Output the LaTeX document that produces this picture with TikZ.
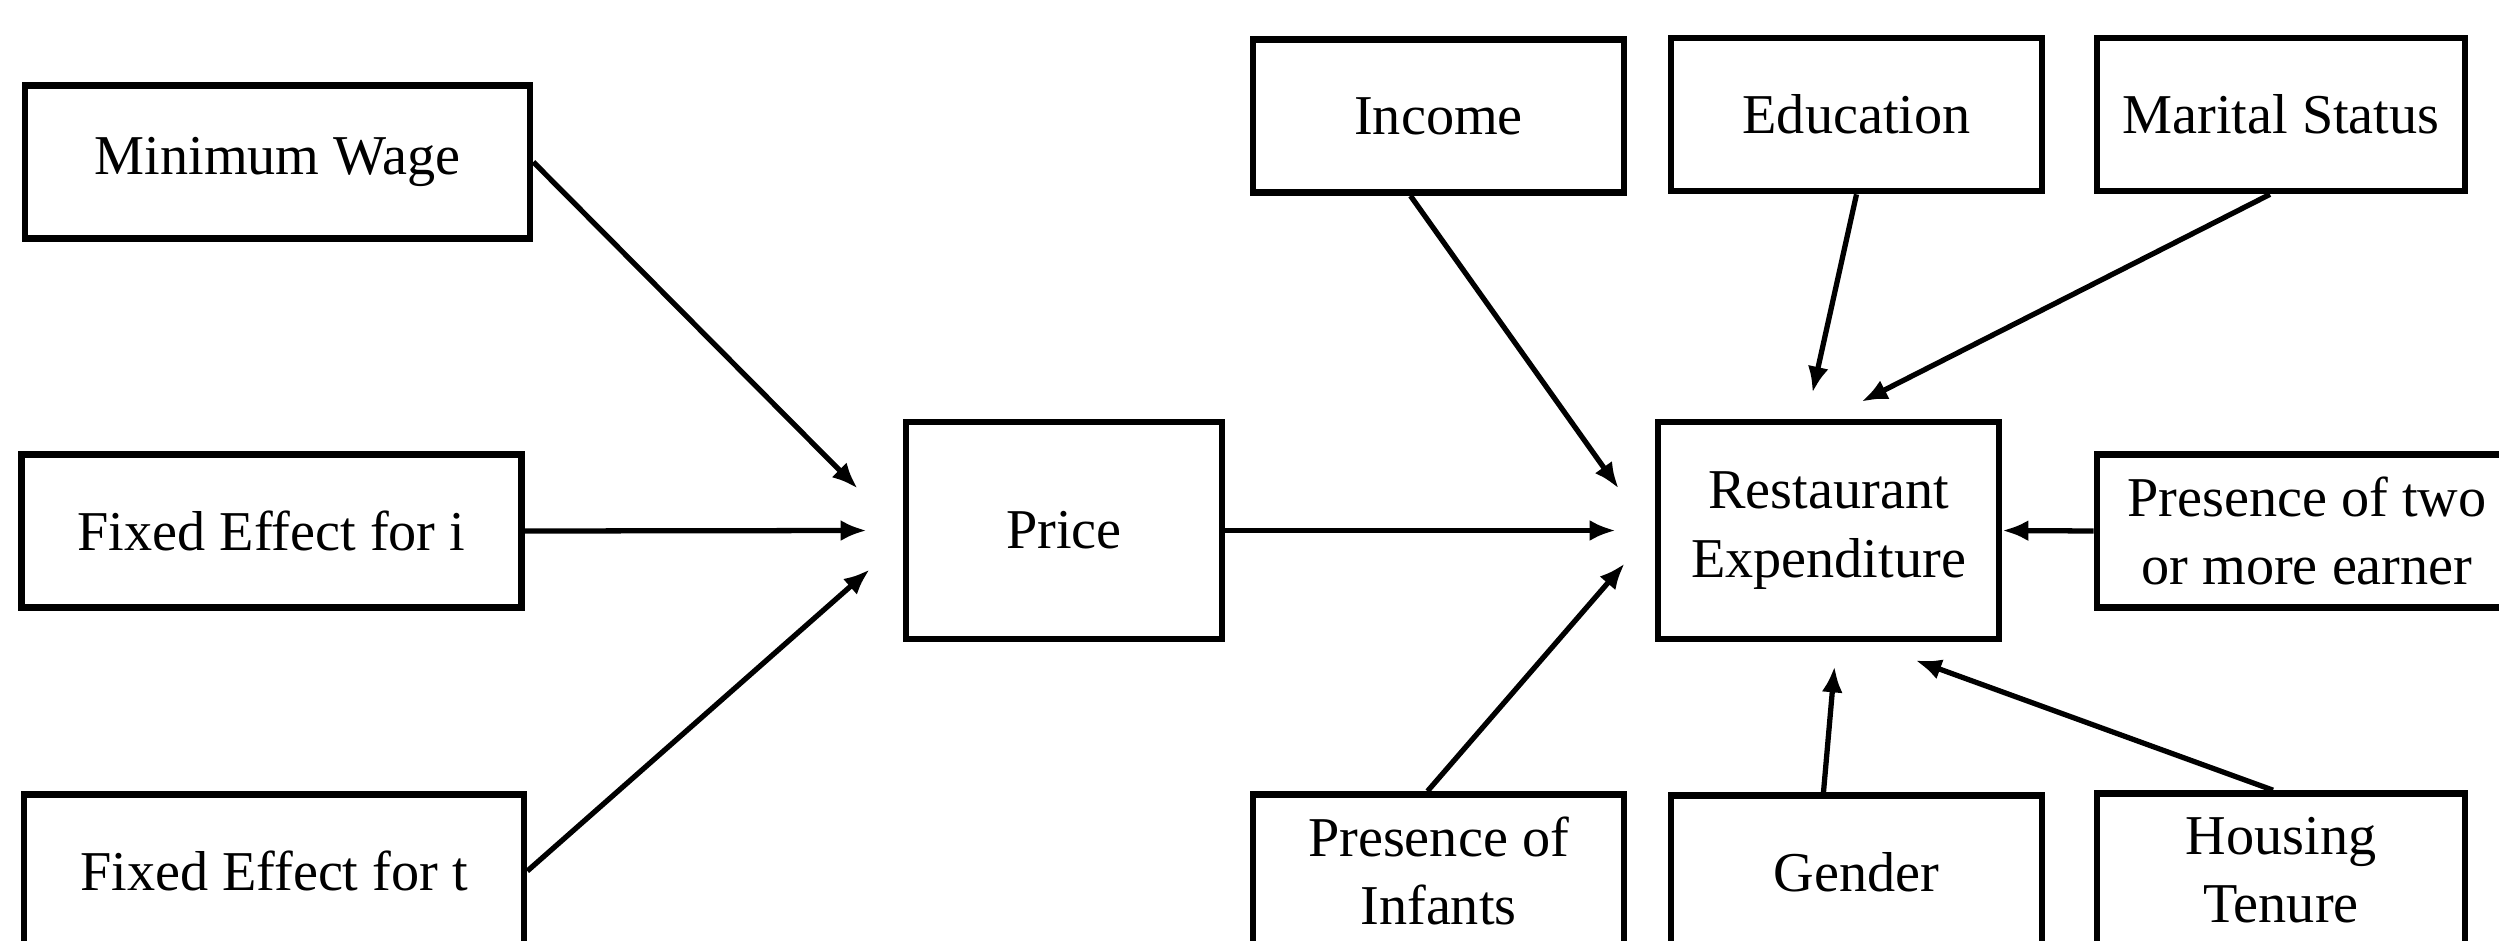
\documentclass[tikz,border=0pt]{standalone}
\usepackage{fontspec}
\setmainfont{Liberation Serif}
\usetikzlibrary{arrows.meta}

\begin{document}
\begin{tikzpicture}[
  box/.style={
    draw, line width=1.9pt, fill=white, align=center,
    minimum height=1.53cm, font=\fontsize{16}{19.5}\selectfont
  },
  flow/.style={
    line width=1.5pt, -{Latex[length=2.6mm,width=2.1mm]}
  },
]

\useasboundingbox (0,0) rectangle (24.99,-9.41);
\clip (0,0) rectangle (24.99,-9.41);

% Left column: inputs to price
\node[box, minimum width=5.05cm] (minwage) at (2.775,-1.62) {Minimum Wage};
\node[box, minimum width=5.0cm] (fei) at (2.715,-5.31) {Fixed Effect for i};
\node[box, minimum width=5.0cm] (fet) at (2.74,-8.71) {Fixed Effect for t};

% Middle
\node[box, minimum width=3.16cm, minimum height=2.17cm] (price) at (10.64,-5.305) {Price};
\node[box, minimum width=3.41cm, minimum height=2.17cm] (restexp) at (18.285,-5.305) {Restaurant\\Expenditure};

% Top row
\node[box, minimum width=3.71cm] (income) at (14.385,-1.16) {Income};
\node[box, minimum width=3.71cm] (educ) at (18.565,-1.145) {Education};
\node[box, minimum width=3.68cm] (marital) at (22.81,-1.145) {Marital Status};

% Right
\node[box, minimum width=4.2cm] (twoearn) at (23.07,-5.31) {Presence of two\\or more earner};

% Bottom row
\node[box, minimum width=3.71cm] (infants) at (14.385,-8.71) {Presence of\\Infants};
\node[box, minimum width=3.71cm] (gender) at (18.565,-8.72) {Gender};
\node[box, minimum width=3.68cm] (housing) at (22.81,-8.70) {Housing\\Tenure};

% Arrows into price
\draw[flow] (minwage.east) -- ([xshift=-0.45cm,yshift=0.42cm]price.west);
\draw[flow] (fei.east) -- ([xshift=-0.36cm]price.west);
\draw[flow] (fet.east) -- ([xshift=-0.33cm,yshift=-0.39cm]price.west);

% Arrows into restaurant expenditure
\draw[flow] (price.east) -- ([xshift=-0.39cm]restexp.west);
\draw[flow] ([xshift=-0.28cm]income.south) -- ([xshift=-0.36cm,yshift=0.42cm]restexp.west);
\draw[flow] ([xshift=-0.11cm]infants.north) -- ([xshift=-0.30cm,yshift=-0.33cm]restexp.west);
\draw[flow] (educ.south) -- ([xshift=-0.16cm,yshift=0.26cm]restexp.north);
\draw[flow] ([xshift=-0.11cm]marital.south) -- ([xshift=0.33cm,yshift=0.17cm]restexp.north);
\draw[flow] (twoearn.west) -- (restexp.east);
\draw[flow] ([xshift=-0.33cm]gender.north) -- ([xshift=0.06cm,yshift=-0.24cm]restexp.south);
\draw[flow] ([xshift=-0.08cm]housing.north) -- ([xshift=0.87cm,yshift=-0.18cm]restexp.south);

\end{tikzpicture}
\end{document}
